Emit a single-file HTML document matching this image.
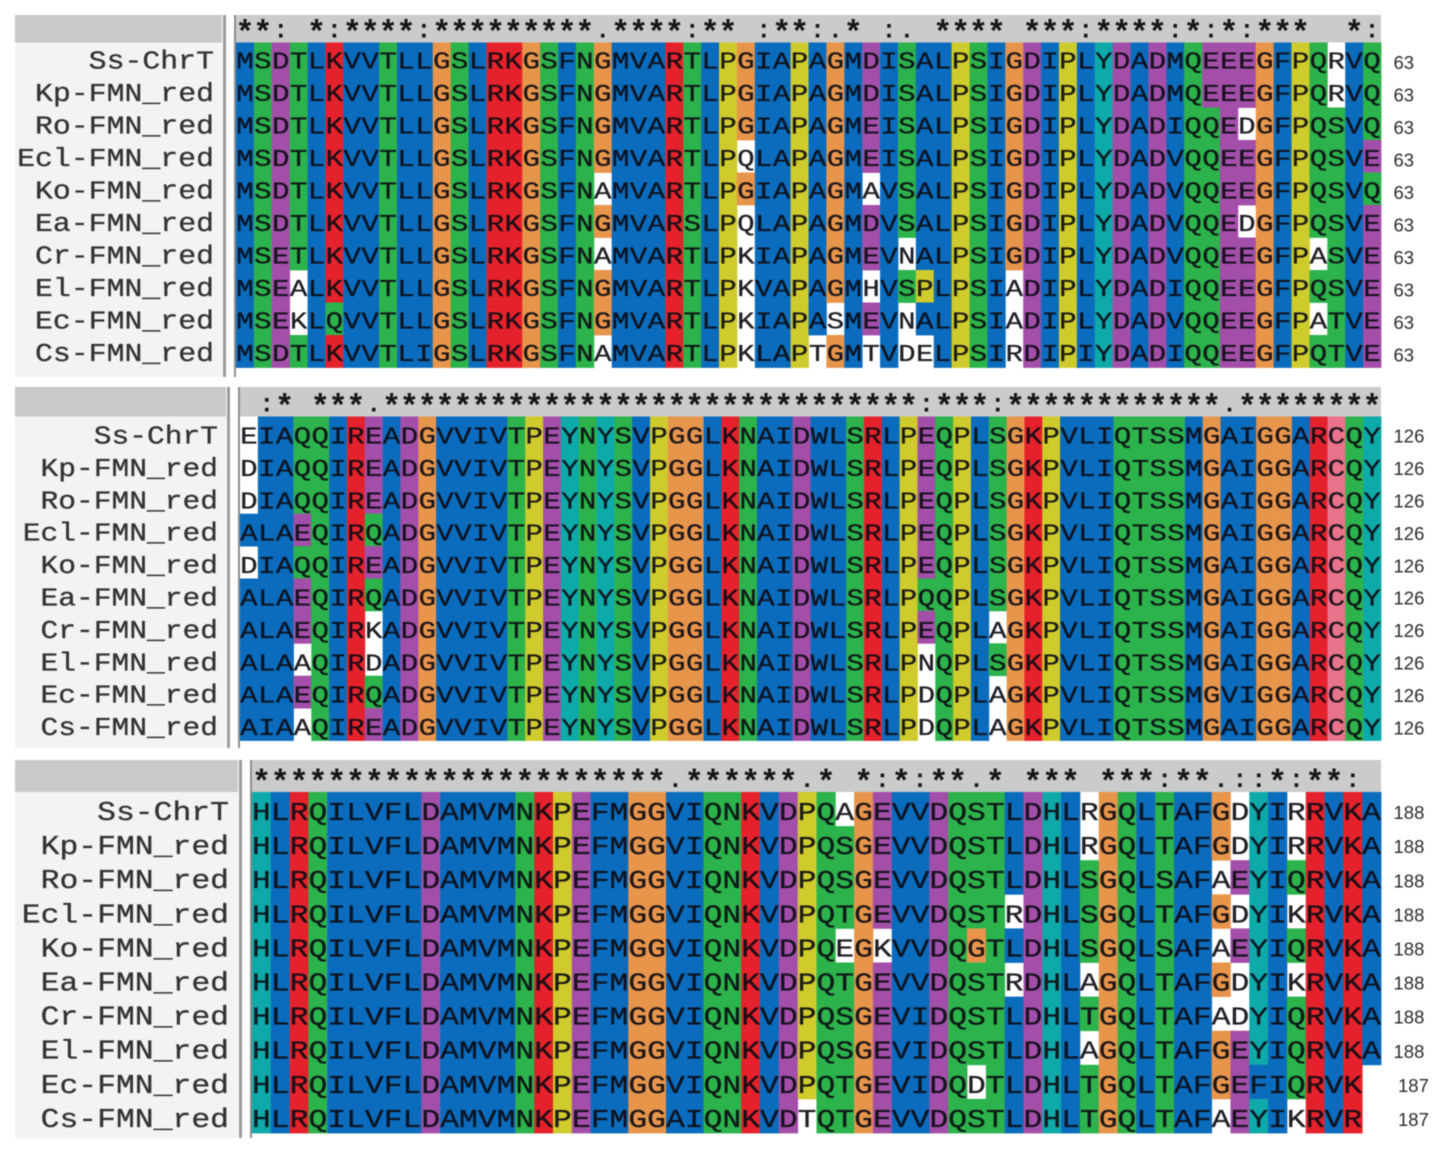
<!DOCTYPE html>
<html lang="en">
<head>
<meta charset="utf-8">
<title>FMN reductase multiple sequence alignment</title>
<style>
  html, body { margin: 0; padding: 0; background: #fff; }
  body { width: 1441px; height: 1152px; overflow: hidden; }
  #alignment { display: block; filter: blur(0.45px); }
  .mono { font-family: "Liberation Mono", monospace; }
  .num { font-family: "Liberation Sans", sans-serif; font-size: 18.5px; fill: #2c2c2c; }
</style>
</head>
<body>
<svg id="alignment" xmlns="http://www.w3.org/2000/svg" width="1441" height="1152" viewBox="0 0 1441 1152"></svg>
<script>
// ---- data: sequence names ----
const sequenceNames = ["Ss-ChrT","Kp-FMN_red","Ro-FMN_red","Ecl-FMN_red","Ko-FMN_red","Ea-FMN_red","Cr-FMN_red","El-FMN_red","Ec-FMN_red","Cs-FMN_red"];

// ---- data: residues; a lowercase letter is a residue left unshaded by the colouring rule ----
const block1Sequences = [
  "MSDTLKVVTLLGSLRKGSFNGMVARTLPGIAPAGMDISALPSIGDIPLYDADMQEEEGFPQrVQ",
  "MSDTLKVVTLLGSLRKGSFNGMVARTLPGIAPAGMDISALPSIGDIPLYDADMQEEEGFPQrVQ",
  "MSDTLKVVTLLGSLRKGSFNGMVARTLPGIAPAGMEISALPSIGDIPLYDADIQQEdGFPQSVQ",
  "MSDTLKVVTLLGSLRKGSFNGMVARTLPqLAPAGMEISALPSIGDIPLYDADVQQEEGFPQSVE",
  "MSDTLKVVTLLGSLRKGSFNaMVARTLPGIAPAGMaVSALPSIGDIPLYDADVQQEEGFPQSVQ",
  "MSDTLKVVTLLGSLRKGSFNGMVARSLPqLAPAGMDVSALPSIGDIPLYDADVQQEdGFPQSVE",
  "MSETLKVVTLLGSLRKGSFNaMVARTLPkIAPAGMEVnALPSIGDIPLYDADVQQEEGFPaSVE",
  "MSEaLKVVTLLGSLRKGSFNGMVARTLPkVAPAGMhVSPLPSIaDIPLYDADIQQEEGFPQSVE",
  "MSEkLQVVTLLGSLRKGSFNGMVARTLPkIAPAsMEVnALPSIaDIPLYDADVQQEEGFPaTVE",
  "MSDTLKVVTLIGSLRKGSFNaMVARTLPkLAPtGMtVdeLPSIrDIPIYDADIQQEEGFPQTVE"
];
const block1Conservation = "**: *:****:*********.****:** :**:.* :. **** ***:****:*:*:***  *:";
const block1Counts = [63,63,63,63,63,63,63,63,63,63];

const block2Sequences = [
  "eIAQQIREADGVVIVTPEYNYSVPGGLKNAIDWLSRLPEQPLSGKPVLIQTSSMGAIGGARCQY",
  "dIAQQIREADGVVIVTPEYNYSVPGGLKNAIDWLSRLPEQPLSGKPVLIQTSSMGAIGGARCQY",
  "dIAQQIREADGVVIVTPEYNYSVPGGLKNAIDWLSRLPEQPLSGKPVLIQTSSMGAIGGARCQY",
  "ALAEQIRQADGVVIVTPEYNYSVPGGLKNAIDWLSRLPEQPLSGKPVLIQTSSMGAIGGARCQY",
  "dIAQQIREADGVVIVTPEYNYSVPGGLKNAIDWLSRLPEQPLSGKPVLIQTSSMGAIGGARCQY",
  "ALAEQIRQADGVVIVTPEYNYSVPGGLKNAIDWLSRLPQQPLSGKPVLIQTSSMGAIGGARCQY",
  "ALAEQIRkADGVVIVTPEYNYSVPGGLKNAIDWLSRLPEQPLaGKPVLIQTSSMGAIGGARCQY",
  "ALAaQIRdADGVVIVTPEYNYSVPGGLKNAIDWLSRLPnQPLSGKPVLIQTSSMGAIGGARCQY",
  "ALAEQIRQADGVVIVTPEYNYSVPGGLKNAIDWLSRLPdQPLaGKPVLIQTSSMGVIGGARCQY",
  "AIAaQIREADGVVIVTPEYNYSVPGGLKNAIDWLSRLPdQPLaGKPVLIQTSSMGAIGGARCQY"
];
const block2Conservation = " :* ***.******************************:***:************.********";
const block2Counts = [126,126,126,126,126,126,126,126,126,126];

const block3Sequences = [
  "HLRQILVFLDAMVMNKPEFMGGVIQNKVDPQaGEVVDQSTLDHLrGQLTAFGdYIrRVKA",
  "HLRQILVFLDAMVMNKPEFMGGVIQNKVDPQSGEVVDQSTLDHLrGQLTAFGdYIrRVKA",
  "HLRQILVFLDAMVMNKPEFMGGVIQNKVDPQSGEVVDQSTLDHLSGQLSAFaEYIQRVKA",
  "HLRQILVFLDAMVMNKPEFMGGVIQNKVDPQTGEVVDQSTrDHLSGQLTAFGdYIkRVKA",
  "HLRQILVFLDAMVMNKPEFMGGVIQNKVDPQeGkVVDQGTLDHLSGQLSAFaEYIQRVKA",
  "HLRQILVFLDAMVMNKPEFMGGVIQNKVDPQTGEVVDQSTrDHLaGQLTAFGdYIkRVKA",
  "HLRQILVFLDAMVMNKPEFMGGVIQNKVDPQSGEVIDQSTLDHLTGQLTAFadYIQRVKA",
  "HLRQILVFLDAMVMNKPEFMGGVIQNKVDPQSGEVIDQSTLDHLaGQLTAFGEYIQRVKA",
  "HLRQILVFLDAMVMNKPEFMGGVIQNKVDPQTGEVIDQdTLDHLTGQLTAFGEFIQRVK",
  "HLRQILVFLDAMVMNKPEFMGGAIQNKVDtQTGEVVDQSTLDHLTGQLTAFaEYIkRVR"
];
const block3Conservation = "**********************.******.* *:*:**.* *** ***:**.::*:**: ";
const block3Counts = [188,188,188,188,188,188,188,188,187,187];

// ---- styling: residue colour classes ----
const BLUE = "#0b6cbd", GREEN = "#2db34b", MAGENTA = "#a34fa9", RED = "#e5222b",
      ORANGE = "#e8954c", YELLOW = "#d0cb2c", CYAN = "#0ea9a9", PINK = "#e8738a";
function residueColor(ch) {
  if (ch !== ch.toUpperCase()) return null;
  if ("AILMFWV".includes(ch)) return BLUE;
  if ("NQST".includes(ch)) return GREEN;
  if ("DE".includes(ch)) return MAGENTA;
  if ("KR".includes(ch)) return RED;
  if (ch === "G") return ORANGE;
  if (ch === "P") return YELLOW;
  if ("HY".includes(ch)) return CYAN;
  if (ch === "C") return PINK;
  return null;
}

const NS = "http://www.w3.org/2000/svg";
const root = document.getElementById("alignment");

function make(tag, attrs, parent, text) {
  const el = document.createElementNS(NS, tag);
  for (const k in attrs) el.setAttribute(k, attrs[k]);
  if (text !== undefined) el.textContent = text;
  parent.appendChild(el);
  return el;
}

function drawBlock(blockName, g, sequences, conservation, counts) {
  const group = make("g", {}, root);
  
  

  // axis functions: column index -> x, row index -> y
  const colCount = conservation.length;
  const cellW = (g.right - g.left) / colCount;
  const rowH = (g.rowsBottom - g.rowsTop) / sequences.length;
  const colX = i => g.left + i * cellW;
  const rowY = r => g.rowsTop + r * rowH;

  const panel = make("rect", {x: 15, y: g.rowsTop, width: g.panelRight - 15, height: g.panelBottom - g.rowsTop, fill: "#f3f3f3"}, group);
  
  

  const nameHeader = make("rect", {x: 15, y: g.top, width: g.panelRight - 15, height: g.rowsTop - g.top, fill: "#c9c9c9"}, group);
  
  

  const splitA = make("rect", {x: g.panelRight + 1, y: g.top, width: 3, height: g.panelBottom - g.top, fill: "#9c9c9c"}, group);
  
  

  const splitB = make("rect", {x: g.left - 2, y: g.top, width: 2, height: g.panelBottom - g.top, fill: "#8d8d8d"}, group);
  
  

  const consHeader = make("rect", {x: g.left, y: g.top, width: g.right - g.left, height: g.rowsTop - g.top, fill: "#cbcbcb"}, group);
  
  

  for (let c = 0; c < conservation.length; c++) {
    const ch = conservation[c];
    if (ch === " ") continue;
    const isStar = ch === "*";
    const mark = make("text", {
      class: "mono",
      "text-anchor": "middle",
      "font-size": isStar ? 32 : 25,
      "font-weight": "bold",
      fill: "#161616",
      transform: "translate(" + (colX(c) + cellW / 2) + "," + (g.rowsTop + (isStar ? 0 : -5)) + ")"
    }, group, ch);
    
    
  }

  sequences.forEach((seq, r) => {
    const name = make("text", {
      class: "mono",
      "text-anchor": "end",
      "font-size": g.labelFont,
      fill: "#333",
      stroke: "#333",
      "stroke-width": 0.3,
      transform: "translate(" + g.labelRight + "," + (rowY(r) + g.baseline) + ") scale(" + g.labelStretch + ",1)"
    }, group, sequenceNames[r]);
    
    

    for (let c = 0; c < seq.length; c++) {
      const fill = residueColor(seq[c]);
      if (fill) {
        const cell = make("rect", {x: colX(c), y: rowY(r), width: cellW + 0.4, height: rowH + 0.4, fill: fill}, group);
        
        
      }
    }
  });

  sequences.forEach((seq, r) => {
    for (let c = 0; c < seq.length; c++) {
      const letter = make("text", {
        class: "mono",
        "text-anchor": "middle",
        "font-size": g.font,
        fill: "#0c0c14",
        stroke: "#0c0c14",
        "stroke-width": 0.35,
        "fill-opacity": 0.92,
        "stroke-opacity": 0.7,
        transform: "translate(" + (colX(c) + cellW / 2) + "," + (rowY(r) + g.baseline) + ") scale(" + g.stretch + ",1)"
      }, group, seq[c].toUpperCase());
      
      
    }
    const count = make("text", {
      class: "num",
      x: counts[r] === 187 ? g.right + 17 : g.right + 12.5,
      y: rowY(r) + rowH / 2 + 10
    }, group, String(counts[r]));
    
    
  });
}

drawBlock('alignment-block-1',
  {top: 15, rowsTop: 42.5, rowsBottom: 367.5, panelRight: 222, panelBottom: 377, left: 236, right: 1381,
   labelRight: 214, font: 24.5, labelFont: 25.5, stretch: 1.19, labelStretch: 1.17, baseline: 26},
  block1Sequences, block1Conservation, block1Counts);

drawBlock('alignment-block-2',
  {top: 387, rowsTop: 416.5, rowsBottom: 740.5, panelRight: 226, panelBottom: 748, left: 240, right: 1381,
   labelRight: 218, font: 24.5, labelFont: 25.5, stretch: 1.19, labelStretch: 1.16, baseline: 27},
  block2Sequences, block2Conservation, block2Counts);

drawBlock('alignment-block-3',
  {top: 760, rowsTop: 792, rowsBottom: 1133, panelRight: 238, panelBottom: 1138, left: 252, right: 1381,
   labelRight: 229, font: 25.5, labelFont: 26.5, stretch: 1.23, labelStretch: 1.185, baseline: 28},
  block3Sequences, block3Conservation, block3Counts);
</script>
</body>
</html>
